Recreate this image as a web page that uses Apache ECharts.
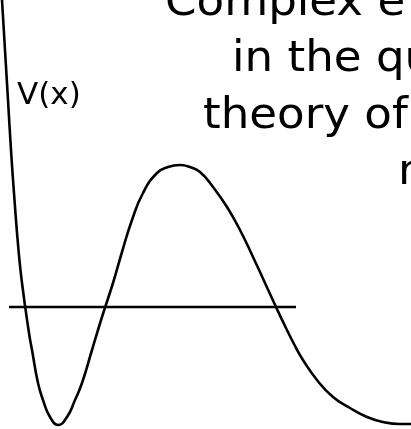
<!DOCTYPE html>
<html>
<head>
<meta charset="utf-8">
<style>
  html, body { margin: 0; padding: 0; background: #fff; }
  #chart { width: 411px; height: 429px; }
</style>
<script src="https://cdn.jsdelivr.net/npm/echarts@6/dist/echarts.min.js"></script>
</head>
<body>
<div id="chart"></div>
<script>
// Potential V(x): steep wall, well, barrier, then a tail decaying to zero.
const positions = [0.02, 0.05, 0.08, 0.11, 0.145, 0.185, 0.22, 0.29, 0.32, 0.38, 0.43, 0.50, 0.58,
                   0.67, 0.75, 0.82, 0.92, 1.02, 1.13, 1.22, 1.32, 1.43, 1.57, 1.68, 1.80,
                   1.90, 2.00, 2.13, 2.27, 2.40, 2.53, 2.65, 2.76, 2.85, 2.94, 3.03, 3.17,
                   3.33, 3.50, 3.67, 3.83, 4.00, 4.11];
const potential = [4.25, 3.75, 3.25, 2.75, 2.25, 1.75, 1.42, 0.92, 0.75, 0.42, 0.25, 0.08, 0.00,
                   0.08, 0.25, 0.42, 0.75, 1.08, 1.42, 1.73, 2.05, 2.32, 2.52, 2.58, 2.60,
                   2.58, 2.53, 2.38, 2.18, 1.95, 1.68, 1.42, 1.18, 0.99, 0.81, 0.65, 0.45,
                   0.28, 0.17, 0.08, 0.03, 0.01, 0.01];

// Energy level drawn across the well and barrier
const energy = 1.18;
const energySpan = [0.09, 2.96];

const axisLabel = 'V(x)';
const titleLines = ['Complex e', 'in the qu', 'theory of', 'n'];

const chart = echarts.init(document.getElementById('chart'), null, { renderer: 'canvas' });

const curve = positions.map((x, i) => [x, potential[i]]);
const level = energySpan.map(x => [x, energy]);

const titleX = [165, 232, 203, 398];
const titleTop = [-18, 38, 95, 151];

chart.setOption({
  backgroundColor: '#fff',
  animation: false,
  grid: { left: 0, right: 0, top: 0, bottom: 0 },
  xAxis: { type: 'value', min: 0, max: 4.11, show: false },
  yAxis: { type: 'value', min: -0.04, max: 4.25, show: false },
  series: [
    {
      type: 'line', data: curve, smooth: 0.5, symbol: 'none', clip: true,
      lineStyle: { color: '#000', width: 2.6 }
    },
    {
      type: 'line', data: level, symbol: 'none',
      lineStyle: { color: '#000', width: 2.4 }
    }
  ],
  graphic: [
    {
      type: 'text', x: 17, y: 80,
      style: { text: axisLabel, fontFamily: 'DejaVu Sans', fontSize: 31, fill: '#000' }
    }
  ].concat(titleLines.map((t, i) => ({
    type: 'text', x: titleX[i], y: titleTop[i], scaleX: 1.05,
    style: { text: t, fontFamily: 'DejaVu Sans', fontSize: 43, fill: '#000' }
  })))
});
</script>
</body>
</html>
